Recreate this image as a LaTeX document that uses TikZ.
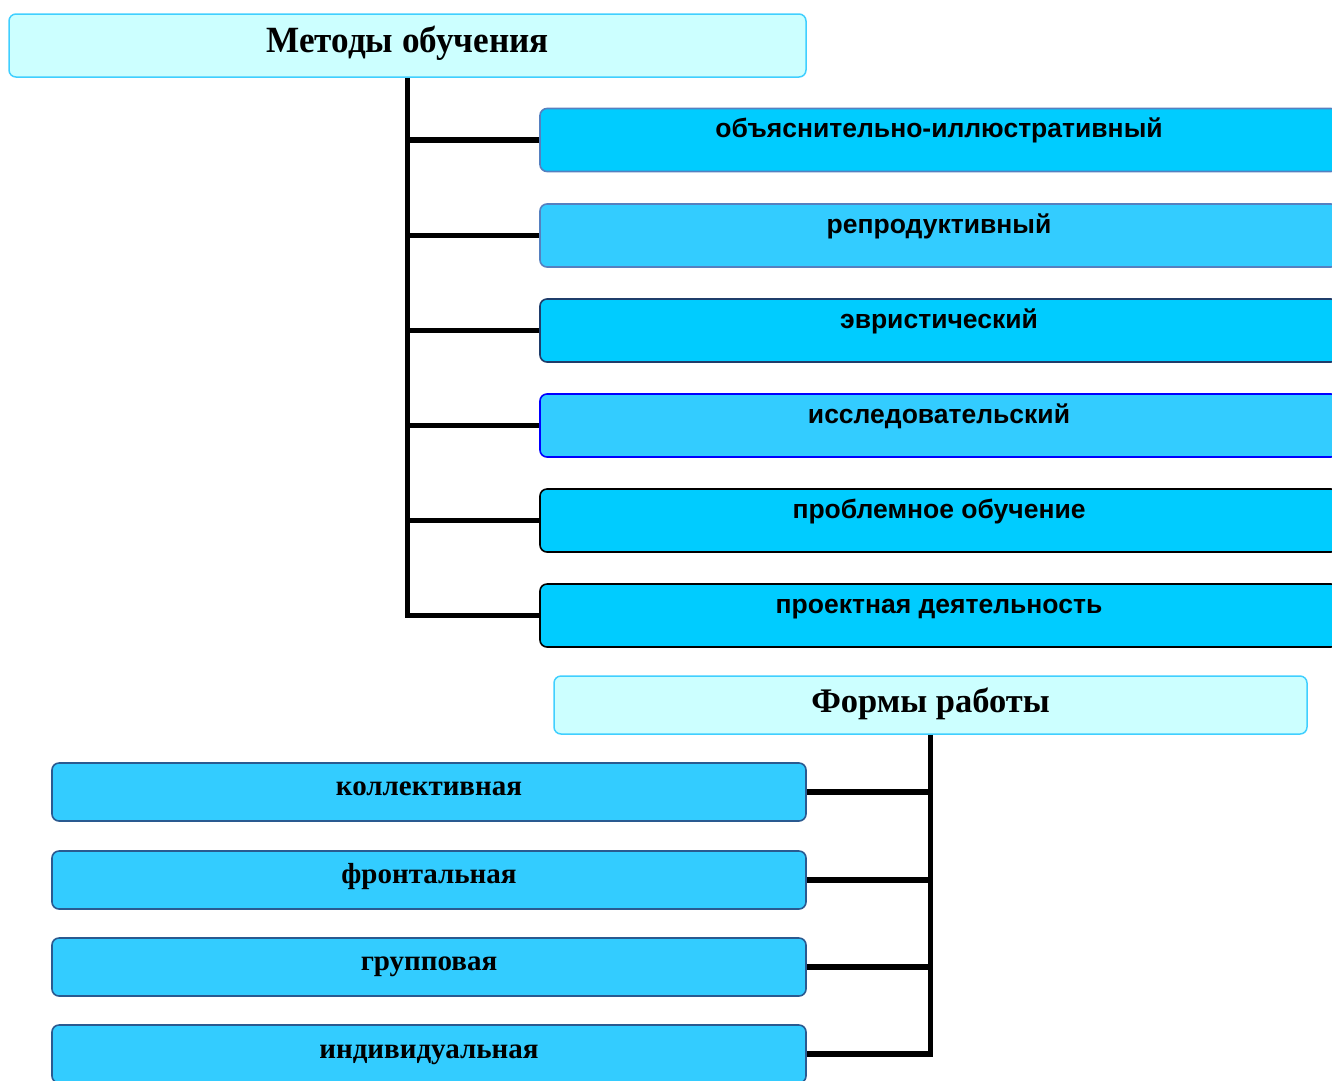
\documentclass[tikz,border=0pt]{standalone}
\usepackage{fontspec}
\setmainfont{Liberation Serif}
\newfontfamily\sansf{Liberation Sans}
\definecolor{headfill}{HTML}{CCFFFF}
\definecolor{headline}{HTML}{40CFFF}
\definecolor{fillA}{HTML}{00CCFF}
\definecolor{fillB}{HTML}{33CCFF}
\definecolor{lineA}{HTML}{5580C0}
\definecolor{lineC}{HTML}{1F3D6B}
\definecolor{lineD}{HTML}{0000FF}
\definecolor{lineF}{HTML}{2A5A90}
\tikzset{
  headbox/.style={draw=headline, line width=1.5pt, fill=headfill, rounded corners=7pt, inner sep=0pt},
  mbox/.style={line width=1.6pt, rounded corners=7pt, minimum width=798pt, minimum height=63pt, inner sep=0pt},
  fbox/.style={draw=lineF, fill=fillB, line width=1.6pt, rounded corners=7pt, minimum width=754pt, minimum height=58pt, inner sep=0pt},
  mtext/.style={font=\sansf\bfseries\fontsize{26.5}{28}\selectfont, inner sep=0pt, anchor=base},
  ftext/.style={font=\bfseries\fontsize{29}{31}\selectfont, inner sep=0pt, anchor=base},
  htext/.style={font=\bfseries\fontsize{37}{39}\selectfont, inner sep=0pt, anchor=base},
  conn/.style={line width=5.5pt, black}
}
\begin{document}
\begin{tikzpicture}[x=1pt, y=-1pt]
\useasboundingbox (0,0) rectangle (1332,1080);
% header boxes
\node[headbox, minimum width=797pt, minimum height=63pt] (top) at (407.5,45.5) {};
\node[htext] (toptext) at (407.5,52) {\scalebox{0.95}[1]{Методы обучения}};
\node[headbox, minimum width=753pt, minimum height=58pt] (forms) at (930.5,705) {};
\node[htext, font=\bfseries\fontsize{34.5}{36}\selectfont] (formstext) at (930.5,712) {Формы работы};
% method boxes
\node[mbox, draw=lineA, fill=fillA] (m1) at (939,140) {};
\node[mbox, draw=lineA, fill=fillB] (m2) at (939,235.5) {};
\node[mbox, draw=lineC, fill=fillA] (m3) at (939,330.5) {};
\node[mbox, draw=lineD, fill=fillB] (m4) at (939,425.5) {};
\node[mbox, draw=black, fill=fillA] (m5) at (939,520.5) {};
\node[mbox, draw=black, fill=fillA] (m6) at (939,615.5) {};
\node[mtext] (t1) at (939,137.5) {объяснительно-иллюстративный};
\node[mtext] (t2) at (939,233) {репродуктивный};
\node[mtext] (t3) at (939,328) {эвристический};
\node[mtext] (t4) at (939,423) {исследовательский};
\node[mtext] (t5) at (939,518) {проблемное обучение};
\node[mtext] (t6) at (939,613) {проектная деятельность};
% form boxes
\node[fbox] (f1) at (429,792) {};
\node[fbox] (f2) at (429,880) {};
\node[fbox] (f3) at (429,967) {};
\node[fbox] (f4) at (429,1054) {};
\node[ftext] (u1) at (429,795.5) {коллективная};
\node[ftext] (u2) at (429,883) {фронтальная};
\node[ftext] (u3) at (429,970.5) {групповая};
\node[ftext] (u4) at (429,1058) {индивидуальная};
% connectors
\draw[conn] (top.south) |- (m6.west);
\foreach \i in {1,...,5} {\draw[conn] (m\i.west) -- (m\i.west -| top.south);}
\draw[conn] (forms.south) |- (f4.east);
\foreach \i in {1,2,3} {\draw[conn] (f\i.east) -- (f\i.east -| forms.south);}
\end{tikzpicture}
\end{document}
